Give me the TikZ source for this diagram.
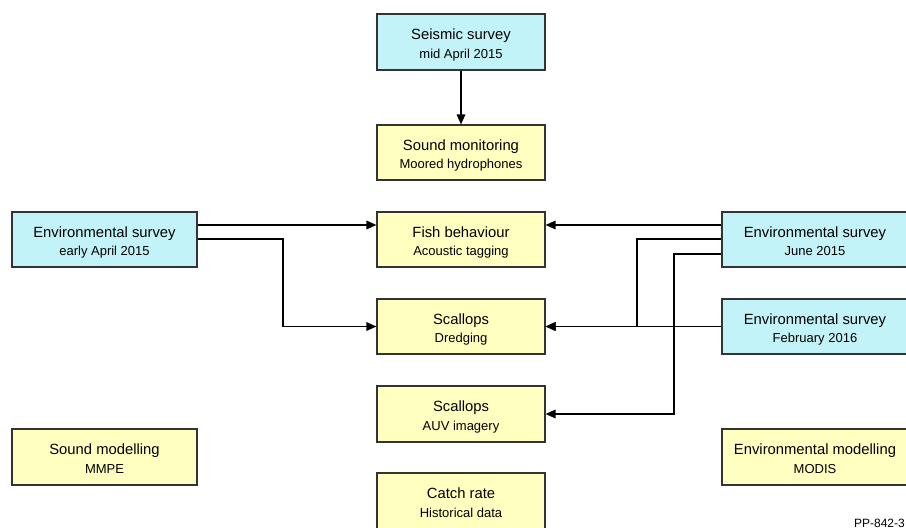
\documentclass[tikz,border=0pt]{standalone}
\usepackage{fontspec}
\setmainfont{Liberation Sans}
\usetikzlibrary{arrows.meta}
\definecolor{boxblue}{HTML}{C2F3F8}
\definecolor{boxyellow}{HTML}{FFFFC0}
\definecolor{boxedge}{HTML}{333333}
\tikzset{
  x=1pt, y=-1pt,
  box/.style={draw=boxedge, line width=1.1pt, rectangle, inner sep=0pt, align=center,
    font=\fontsize{14.8}{18.5}\selectfont},
  bluebox/.style={box, fill=boxblue},
  yellowbox/.style={box, fill=boxyellow},
  conn/.style={draw=black, line width=1.6pt, -{Triangle[length=10pt,width=8.5pt]}},
}
\newcommand{\twoline}[2]{\rule{0pt}{18pt}#1\\{\fontsize{13}{18.5}\selectfont #2\rule[-4pt]{0pt}{4pt}}}
\begin{document}
\begin{tikzpicture}
\useasboundingbox (0,0) rectangle (906,528);
\clip (0,0) rectangle (906,528);
\fill[white] (0,0) rectangle (906,528);
% centre column
\node[bluebox, minimum width=168pt, minimum height=56pt] (seis) at (461,42) {\twoline{Seismic survey}{mid April 2015}};
\node[yellowbox, minimum width=168pt, minimum height=55pt] (mon) at (461,152.5) {\twoline{Sound monitoring}{Moored hydrophones}};
\node[yellowbox, minimum width=168pt, minimum height=55pt] (fish) at (461,239.5) {\twoline{Fish behaviour}{Acoustic tagging}};
\node[yellowbox, minimum width=168pt, minimum height=55pt] (dredge) at (461,326.5) {\twoline{Scallops}{Dredging}};
\node[yellowbox, minimum width=168pt, minimum height=56pt] (auv) at (461,414) {\twoline{Scallops}{AUV imagery}};
\node[yellowbox, minimum width=168pt, minimum height=56pt] (catch) at (461,501) {\twoline{Catch rate}{Historical data}};
% left column
\node[bluebox, minimum width=185pt, minimum height=55pt] (envA) at (104.5,239.5) {\twoline{Environmental survey}{early April 2015}};
\node[yellowbox, minimum width=185pt, minimum height=56pt] (smod) at (104.5,457) {\twoline{Sound modelling}{MMPE}};
% right column
\node[bluebox, minimum width=186pt, minimum height=55pt] (envJ) at (815,239.5) {\twoline{Environmental survey}{June 2015}};
\node[bluebox, minimum width=186pt, minimum height=55pt] (envF) at (815,326.5) {\twoline{Environmental survey}{February 2016}};
\node[yellowbox, minimum width=186pt, minimum height=56pt] (emod) at (815,457) {\twoline{Environmental modelling}{MODIS}};
% label
\node[anchor=east, inner sep=0pt, font=\fontsize{12}{14}\selectfont] (pp) at (905,523) {PP-842-3};
% connectors
\draw[conn] (seis.south) -- (mon.north);
\draw[conn] (envA.east |- 0,225) -- (fish.west |- 0,225);
\draw[conn] (envA.east |- 0,239) -- (283,239) |- (dredge.west);
\draw[conn] (envJ.west |- 0,225) -- (fish.east |- 0,225);
\draw[conn] (envJ.west |- 0,239) -- (637,239) |- (dredge.east);
\draw[conn] (envF.west) -- (dredge.east);
\draw[conn] (envJ.west |- 0,254) -- (674,254) |- (auv.east);
\end{tikzpicture}
\end{document}
